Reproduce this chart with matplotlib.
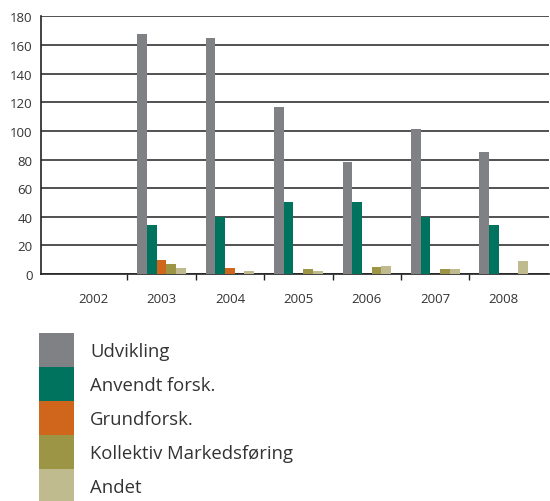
import numpy as np
import matplotlib.pyplot as plt
from matplotlib.ticker import FixedLocator

plt.rcParams['font.family'] = ['Open Sans', 'DejaVu Sans']

# data
years = ['2002', '2003', '2004', '2005', '2006', '2007', '2008']
series = ['Udvikling', 'Anvendt forsk.', 'Grundforsk.', 'Kollektiv Markedsføring', 'Andet']
udvikling = [0, 168, 165, 117, 78, 101, 85]
anvendt = [0, 34, 40, 50, 50, 40, 34]
grundforsk = [0, 10, 4, 0, 0, 0, 0]
kollektiv = [0, 7, 0, 3.5, 5, 3.5, 0]
andet = [0, 4, 2.5, 2, 5.5, 3.5, 9]
colors = ['#808184', '#00735F', '#D0661B', '#9C9546', '#BFBB8F']

values = [udvikling, anvendt, grundforsk, kollektiv, andet]

fig = plt.figure(figsize=(5.5, 5.02), dpi=100)
ax = fig.add_axes([0.0745, 0.452, 0.9235, 0.5135])

x = np.arange(len(years))
w = 0.142
handles = []
for i, (name, vals) in enumerate(zip(series, values)):
    b = ax.bar(x + (i - 2) * w, vals, width=w, color=colors[i], label=name, zorder=3)
    handles.append(b)

ax.set_ylim(0, 180)
ax.set_xlim(-0.76, 6.66)
ax.set_yticks(range(0, 181, 20))
ax.yaxis.grid(True, color='#333333', linewidth=1.2, zorder=0)
ax.set_axisbelow(True)

# ticks at category boundaries, labels at centers
ax.xaxis.set_major_locator(FixedLocator(x[:-1] + 0.5))
ax.xaxis.set_minor_locator(FixedLocator(x))
ax.set_xticklabels([], minor=False)
ax.set_xticklabels(years, minor=True)
ax.tick_params(axis='x', which='major', length=4, width=1, color='#222222', direction='out')
ax.tick_params(axis='x', which='minor', length=0, pad=13, labelsize=9.5, labelcolor='#333333')
ax.tick_params(axis='y', length=0, pad=6, labelsize=9.5, labelcolor='#333333')

for s in ['top', 'right']:
    ax.spines[s].set_visible(False)
for s in ['left', 'bottom']:
    ax.spines[s].set_color('#222222')
    ax.spines[s].set_linewidth(1.2)

# legend: swatches ~35x34 px stacked without gaps
fs = 13.3
row_pt = 34 * 72 / 100
hh = (row_pt / fs - 0.245) / 0.65
leg = fig.legend(handles=handles, labels=series, loc='upper left',
                 bbox_to_anchor=(39 / 550, 1 - 334 / 502), frameon=False,
                 borderpad=0, borderaxespad=0, labelspacing=0,
                 handlelength=35 * 0.72 / fs, handleheight=hh,
                 handletextpad=16 * 0.72 / fs, fontsize=fs)
for t in leg.get_texts():
    t.set_color('#333333')

fig.savefig('out.png', dpi=100)
